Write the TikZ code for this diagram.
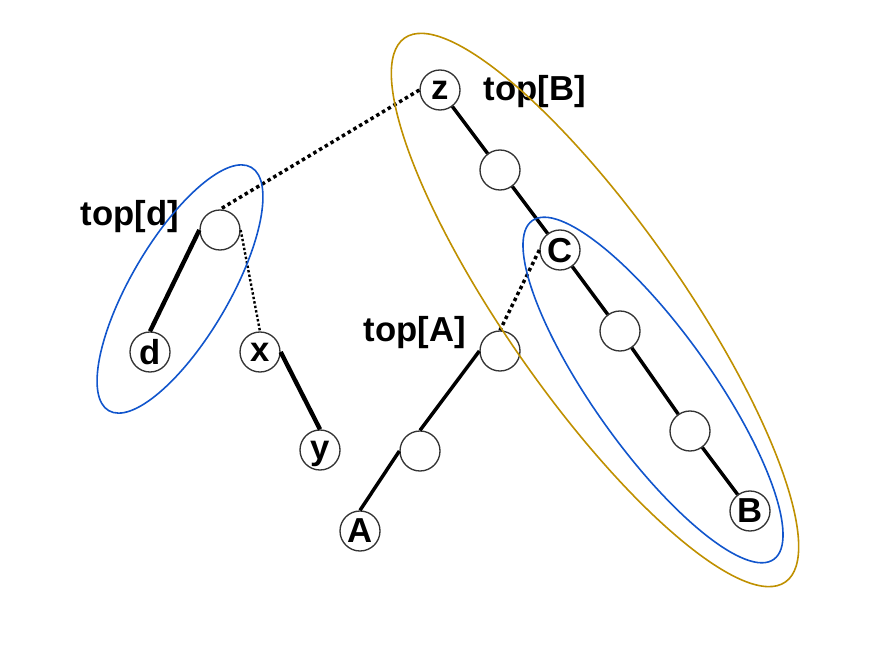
\documentclass[tikz,border=0pt]{standalone}
\usepackage{fontspec}
\setmainfont{Liberation Sans}
\usetikzlibrary{positioning}

\definecolor{groupgold}{RGB}{191,144,0}
\definecolor{groupblue}{RGB}{17,85,204}

\tikzset{
  vtx/.style={circle, draw=black!80, line width=1pt, minimum size=30pt, inner sep=0pt,
    text depth=0pt, font=\fontsize{26}{26}\selectfont\bfseries},
  lbl/.style={font=\fontsize{26}{26}\selectfont\bfseries, inner sep=0pt},
  solidedge/.style={line width=2.6pt},
  boldedge/.style={line width=3.3pt},
  dotedge/.style={line width=2.6pt, dash pattern=on 2.6pt off 2.4pt},
  thindot/.style={line width=1.8pt, dash pattern=on 1.8pt off 1.6pt},
  group/.style={line width=1.2pt},
}

\begin{document}
\begin{tikzpicture}[x=0.75pt, y=-0.75pt]
  \useasboundingbox (0,0) rectangle (880,655);

  % right path z ... B
  \node[vtx] (vz) at (440,90) {z};
  \node[vtx] (v1) at (500,170) {};
  \node[vtx] (vC) at (560,250) {C};
  \node[vtx] (v2) at (620,331) {};
  \node[vtx] (v3) at (690,431) {};
  \node[vtx] (vB) at (750,511) {B};

  % path top[A] ... A
  \node[vtx] (vtA) at (500,351) {};
  \node[vtx] (v4) at (420,451) {};
  \node[vtx] (vA) at (360,531) {A};

  % left part
  \node[vtx] (vtd) at (220,230) {};
  \node[vtx] (vd) at (150,352) {d};
  \node[vtx] (vx) at (260,352) {x};
  \node[vtx] (vy) at (320,450) {y};

  % labels
  \node[lbl] (labB) at (535,92) {top[B]};
  \node[lbl] (labd) at (130,217) {top[d]};
  \node[lbl] (labA) at (415,333) {top[A]};

  % tree edges
  \foreach \a/\b in {vz/v1, v1/vC, vC/v2, v2/v3, v3/vB}
    \draw[solidedge] (\a) -- (\b);
  \draw[solidedge] (vtA.west) -- (v4.north);
  \draw[solidedge] (v4.west) -- (vA.north);
  \draw[boldedge] (vtd.west) -- (vd.north);
  \draw[boldedge] (vx.east) -- (vy.north);

  % dotted links
  \draw[dotedge] (vz.west) -- (vtd.north);
  \draw[dotedge] (vC.west) -- (vtA.north);
  \draw[thindot] (vtd.east) -- (vx.north);

  % groups
  \draw[group, groupgold, rotate around={-55:(595,310)}] (595,310) ellipse [x radius=332, y radius=88];
  \draw[group, groupblue, rotate around={-54.5:(653,390)}] (653,390) ellipse [x radius=208, y radius=59];
  \draw[group, groupblue, rotate around={59.6:(180,289)}] (180,289) ellipse [x radius=141, y radius=49];
\end{tikzpicture}
\end{document}
